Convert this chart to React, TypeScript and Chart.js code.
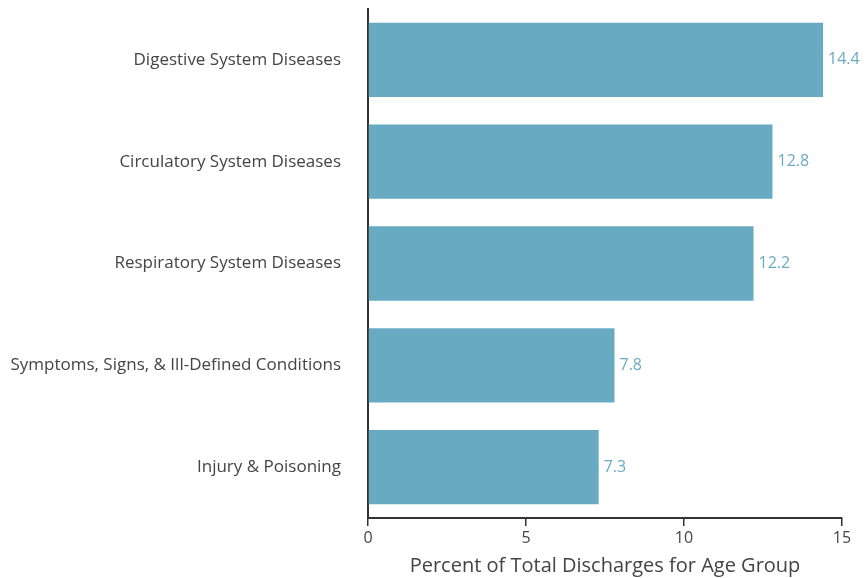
import React, { useEffect, useRef } from "react";
import { Chart, registerables } from "chart.js";

Chart.register(...registerables);

const categories = [
  "Digestive System Diseases",
  "Circulatory System Diseases",
  "Respiratory System Diseases",
  "Symptoms, Signs, & Ill-Defined Conditions",
  "Injury & Poisoning",
];
const values = [14.4, 12.8, 12.2, 7.8, 7.3];
const xTicks = [0, 5, 10, 15];

const FONT = "'Open Sans', 'Noto Sans', sans-serif";
const BAR = "#69aac3";
const AXIS = "#333333";

const valueLabels = {
  id: "valueLabels",
  afterDatasetsDraw(chart: any) {
    const ctx = chart.ctx;
    const meta = chart.getDatasetMeta(0);
    ctx.save();
    ctx.font = `16px ${FONT}`;
    ctx.fillStyle = "#6aaac4";
    ctx.textAlign = "left";
    ctx.textBaseline = "middle";
    meta.data.forEach((el: any, i: number) => {
      ctx.fillText(values[i].toFixed(1), el.x + 5, el.y);
    });
    ctx.restore();
  },
};

export default function App() {
  const ref = useRef<HTMLCanvasElement | null>(null);
  useEffect(() => {
    if (!ref.current) return;
    const chart = new Chart(ref.current, {
      type: "bar",
      data: {
        labels: categories,
        datasets: [
          {
            data: values,
            backgroundColor: BAR,
            barPercentage: 0.73,
            categoryPercentage: 1,
          },
        ],
      },
      options: {
        indexAxis: "y",
        animation: false,
        responsive: false,
        layout: { padding: { top: 9, right: 23, left: 0, bottom: 0 } },
        plugins: { legend: { display: false }, tooltip: { enabled: false } },
        scales: {
          x: {
            min: 0,
            max: 15,
            afterBuildTicks: (axis: any) => {
              axis.ticks = xTicks.map((v) => ({ value: v }));
            },
            afterFit: (axis: any) => {
              axis.height = 60;
              axis.paddingLeft = 0;
              axis.paddingRight = 0;
            },
            grid: {
              display: true,
              drawOnChartArea: false,
              drawTicks: true,
              tickLength: 8,
              color: AXIS,
              lineWidth: 1.5,
            },
            border: { display: true, color: AXIS, width: 2 },
            ticks: {
              color: "#444",
              font: { family: FONT, size: 16 },
              padding: 3,
              maxRotation: 0,
            },
            title: {
              display: true,
              text: "Percent of Total Discharges for Age Group",
              color: "#444",
              font: { family: FONT, size: 20 },
              padding: { top: 0, bottom: 0 },
            },
          },
          y: {
            afterFit: (axis: any) => {
              axis.width = 368;
              axis.paddingTop = 0;
              axis.paddingBottom = 0;
            },
            grid: { display: false, drawTicks: false },
            border: { display: true, color: AXIS, width: 2 },
            ticks: {
              color: "#444",
              font: { family: FONT, size: 17 },
              padding: 27,
            },
          },
        },
      },
      plugins: [valueLabels],
    });
    return () => chart.destroy();
  }, []);
  return (
    <div style={{ position: "fixed", left: 0, top: 0, width: 865, height: 578, background: "#fff" }}>
      <canvas ref={ref} width={865} height={578} />
    </div>
  );
}
